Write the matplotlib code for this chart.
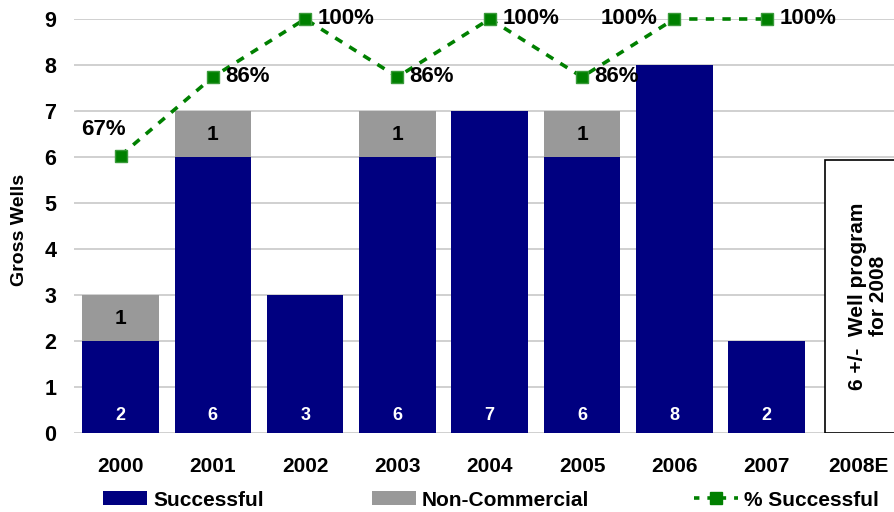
import matplotlib
matplotlib.use("Agg")
import matplotlib.pyplot as plt
from matplotlib.patches import Patch
from matplotlib.lines import Line2D
import numpy as np

plt.rcParams['font.family'] = ['Liberation Sans', 'DejaVu Sans']
plt.rcParams['font.weight'] = 'bold'

# %% Data
years = ['2000', '2001', '2002', '2003', '2004', '2005', '2006', '2007', '2008E']
successful = [2, 6, 3, 6, 7, 6, 8, 2]
non_commercial = [1, 1, 0, 1, 0, 1, 0, 0]
pct_success = [67, 86, 100, 86, 100, 86, 100, 100]
program_2008 = 5.93

navy = '#000080'
gray = '#999999'
green = '#008000'

# %% Figure
fig = plt.figure(figsize=(8.94, 5.12), dpi=100)
ax = fig.add_axes([74.4/894, 79/512, 1 - 74.4/894, 414/512])

x = np.arange(len(years))
xs = x[:len(successful)]
w = 0.83

ax.bar(xs, successful, width=w, color=navy, zorder=2)
ax.bar(xs, non_commercial, width=w, bottom=successful, color=gray, zorder=2)
ax.bar(x[-1] - 0.365, program_2008, width=1.2, align='edge', color='white',
       edgecolor='black', lw=1.2, zorder=2)

for i, s in enumerate(successful):
    ax.text(xs[i], 0.37, str(s), color='white', ha='center', va='center', fontsize=13, fontweight='bold')
    if non_commercial[i]:
        ax.text(xs[i], s + non_commercial[i]/2, str(non_commercial[i]), color='black',
                ha='center', va='center', fontsize=15, fontweight='bold')

ax.text(x[-1] + 0.1, 2.98, '6 +/-  Well program\nfor 2008', rotation=90, ha='center', va='center',
        fontsize=15, fontweight='bold', linespacing=1.15)

# percentage line, scaled so 100% sits at 9
pct_y = [p * 9 / 100 for p in pct_success]
ax.plot(xs, pct_y, color=green, ls=(0, (2.3, 2.3)), lw=2.6, marker='s', ms=9,
        markerfacecolor=green, markeredgecolor='#3a9a3a', zorder=4, clip_on=False)

offsets = [(-0.19, 0.56, 'center'), (0.13, 0, 'left'), (0.14, 0, 'left'), (0.13, 0, 'left'),
           (0.14, 0, 'left'), (0.13, 0, 'left'), (-0.18, 0, 'right'), (0.14, 0, 'left')]
for i, p in enumerate(pct_success):
    dx, dy, ha = offsets[i]
    ax.text(xs[i] + dx, pct_y[i] + dy, f'{p}%', ha=ha, va='center', fontsize=16,
            fontweight='bold', zorder=5)

ax.set_xlim(-0.5, 8.38)
ax.set_ylim(0, 9)
ax.set_yticks(range(10))
ax.yaxis.grid(True, color='#c8c8c8', lw=1.2, zorder=0)
ax.set_axisbelow(True)
for s in ax.spines.values():
    s.set_visible(False)
ax.tick_params(axis='both', length=0)
ax.tick_params(axis='y', labelsize=15.5, pad=13)
ax.tick_params(axis='x', labelsize=15, pad=17)
ax.set_xticks(x)
ax.set_xticklabels(years, fontweight='bold')
for lab in ax.get_yticklabels():
    lab.set_fontweight('bold')
ax.set_ylabel('Gross Wells', fontsize=14, fontweight='bold')
ax.yaxis.set_label_coords(-0.057, 0.49)

entries = [(Patch(facecolor=navy), 'Successful', 103),
           (Patch(facecolor=gray), 'Non-Commercial', 372),
           (Line2D([], [], color=green, ls=(0, (1.5, 2.2)), lw=2.6, marker='s', ms=9),
            '% Successful', 694)]
for h, lab, xp in entries:
    leg = fig.legend(handles=[h], labels=[lab], loc='center left',
                     bbox_to_anchor=(xp/894, 12/512), frameon=False, fontsize=15,
                     handlelength=2.1, handleheight=0.65, handletextpad=0.3,
                     borderpad=0, borderaxespad=0)

fig.savefig('out.png', dpi=100)
